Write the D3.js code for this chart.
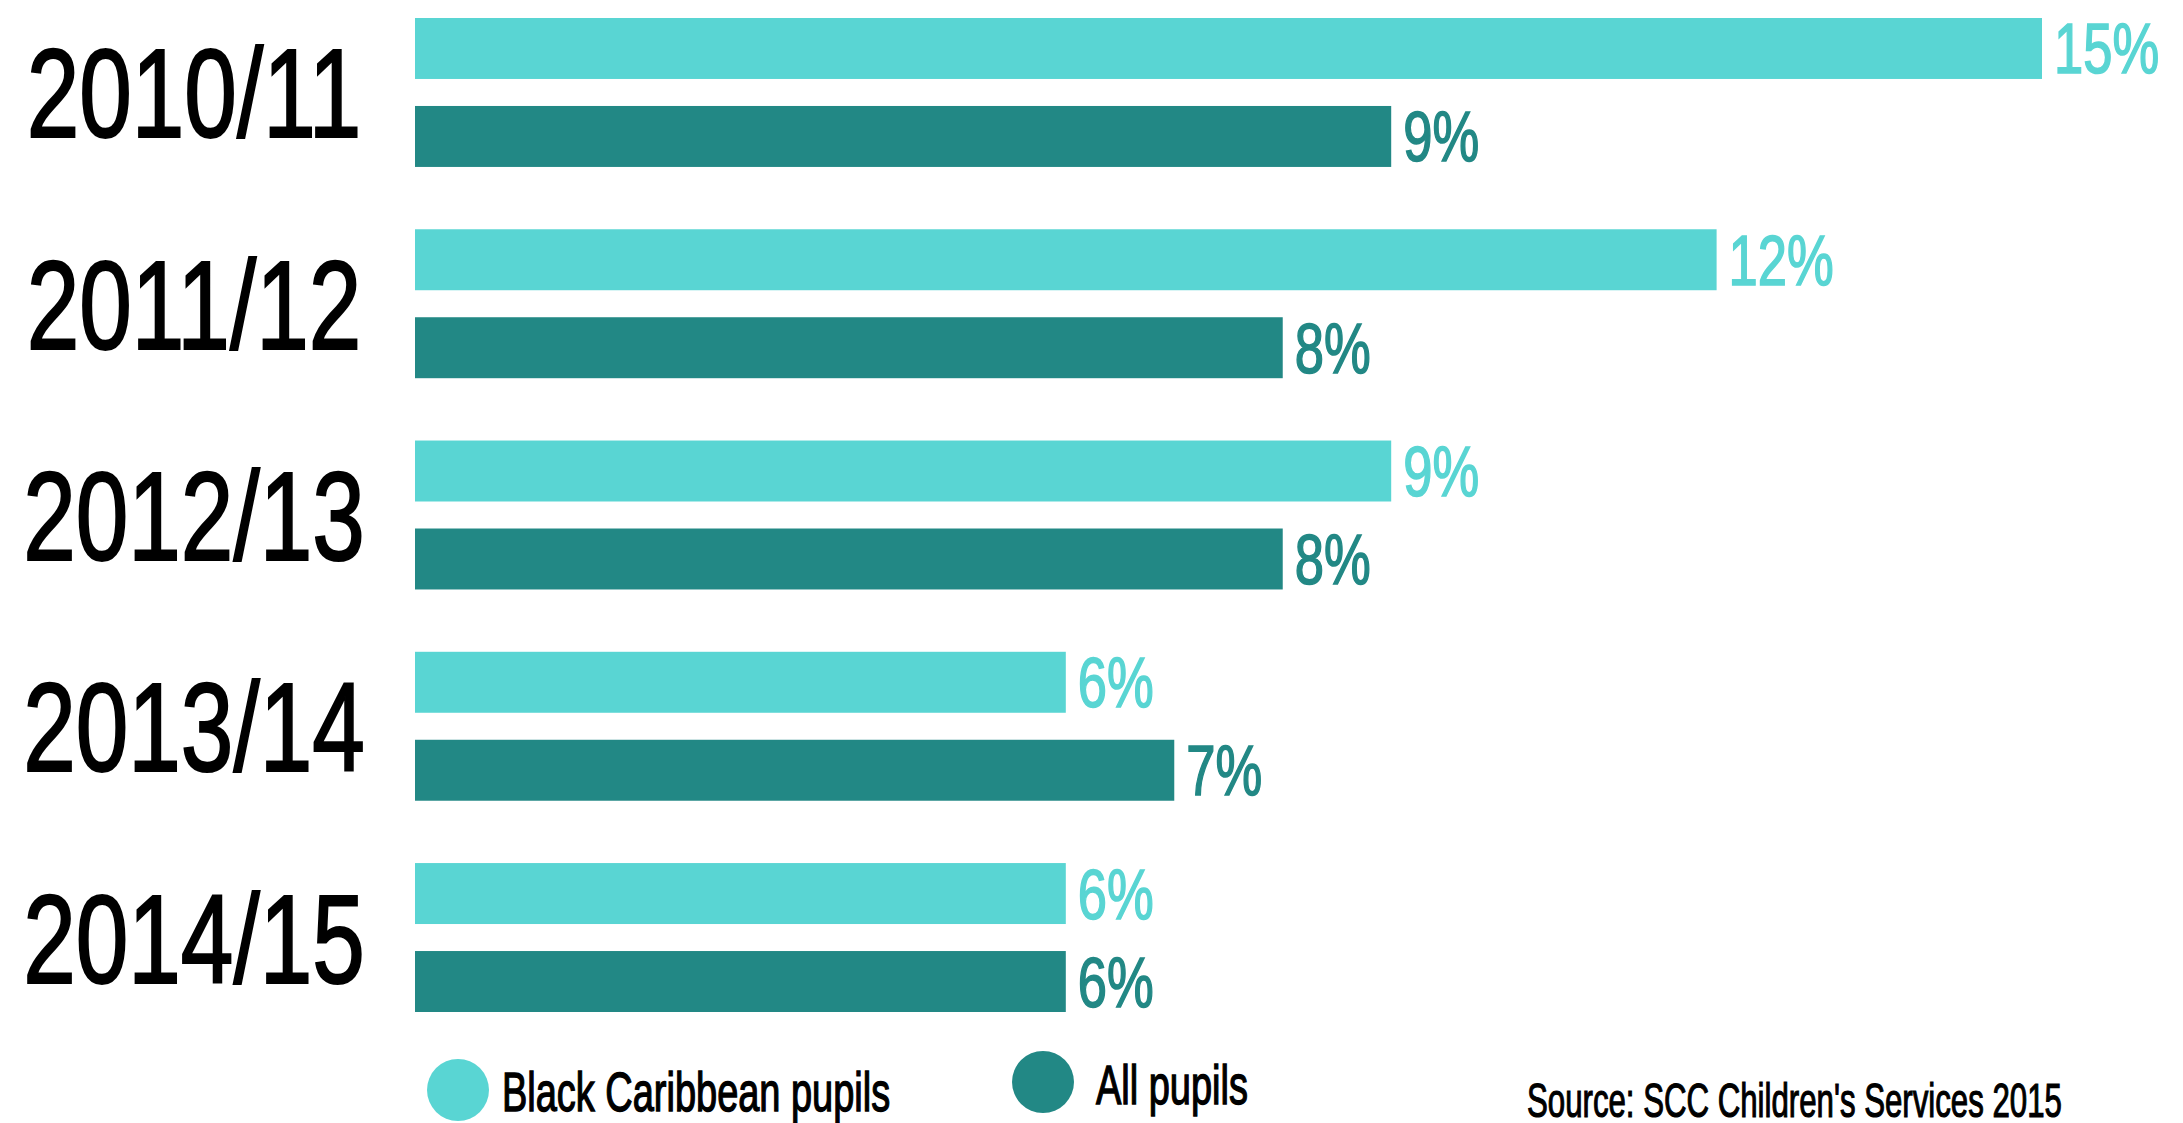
<!DOCTYPE html>
<html>
<head>
<meta charset="utf-8">
<script src="https://cdn.jsdelivr.net/npm/d3@7"></script>
<style>
  html, body { margin: 0; padding: 0; background: #ffffff; }
  svg { display: block; }
  text { font-family: "Liberation Sans", Arial, sans-serif; }
</style>
</head>
<body>
<script>
// ---- data ----
const years = ["2010/11", "2011/12", "2012/13", "2013/14", "2014/15"];
const seriesNames = ["Black Caribbean pupils", "All pupils"];
const blackCaribbean = [15, 12, 9, 6, 6];
const allPupils = [9, 8, 8, 7, 6];
const sourceText = "Source: SCC Children's Services 2015";

// ---- styles ----
const colors = { "Black Caribbean pupils": "#59d5d3", "All pupils": "#228885" };
const W = 2183, H = 1123;

const svg = d3.select("body").append("svg").attr("width", W).attr("height", H);

const x = d3.scaleLinear().domain([0, 15]).range([415, 2042]);
const y0 = d3.scaleBand().domain(years).range([18, 1012]).paddingInner(0.295).paddingOuter(0);
const y1 = d3.scaleBand().domain(seriesNames).range([0, y0.bandwidth()]).paddingInner(0.307).paddingOuter(0);

const rows = years.map((yr, i) => ({
  year: yr,
  values: [
    { series: seriesNames[0], value: blackCaribbean[i] },
    { series: seriesNames[1], value: allPupils[i] }
  ]
}));

// squeeze text horizontally to mimic a condensed display face
function condense(sel, factor) {
  sel.each(function() {
    const w = this.getComputedTextLength();
    d3.select(this).attr("textLength", w * factor).attr("lengthAdjust", "spacingAndGlyphs");
  });
}

const groups = svg.selectAll("g.year").data(rows).join("g")
  .attr("class", "year")
  .attr("transform", d => `translate(0,${y0(d.year)})`);

groups.selectAll("rect").data(d => d.values).join("rect")
  .attr("x", x(0))
  .attr("y", d => y1(d.series))
  .attr("width", d => x(d.value) - x(0))
  .attr("height", y1.bandwidth())
  .attr("fill", d => colors[d.series]);

groups.selectAll("text.val").data(d => d.values).join("text")
  .attr("class", "val")
  .attr("x", d => x(d.value) + 12)
  .attr("y", d => y1(d.series) + y1.bandwidth() / 2 + 25)
  .attr("font-size", 71)
  .attr("fill", d => colors[d.series])
  .attr("stroke", d => colors[d.series])
  .attr("stroke-width", 1.6)
  .text(d => d.value + "%")
  .call(condense, 0.74);

// year labels
svg.selectAll("text.yr").data(years).join("text")
  .attr("class", "yr")
  .attr("x", 194)
  .attr("y", d => y0(d) + y0.bandwidth() / 2 + 45)
  .attr("text-anchor", "middle")
  .attr("font-size", 126)
  .attr("fill", "#000")
  .attr("stroke", "#000")
  .attr("stroke-width", 2.2)
  .text(d => d)
  .call(condense, 0.75);

// legend
const legendItems = [
  { name: seriesNames[0], cx: 458, cy: 1090, tx: 502, ty: 1111 },
  { name: seriesNames[1], cx: 1043, cy: 1082, tx: 1096, ty: 1104 }
];
const lg = svg.selectAll("g.legend").data(legendItems).join("g").attr("class", "legend");
lg.append("circle")
  .attr("cx", d => d.cx).attr("cy", d => d.cy).attr("r", 31)
  .attr("fill", d => colors[d.name]);
lg.append("text")
  .attr("x", d => d.tx).attr("y", d => d.ty)
  .attr("font-size", 55)
  .attr("fill", "#000")
  .attr("stroke", "#000")
  .attr("stroke-width", 1.4)
  .text(d => d.name)
  .call(condense, 0.69);

// source
svg.append("text")
  .attr("x", 1527).attr("y", 1117)
  .attr("font-size", 48)
  .attr("fill", "#000")
  .attr("stroke", "#000")
  .attr("stroke-width", 1.2)
  .text(sourceText)
  .call(condense, 0.65);
</script>
</body>
</html>
